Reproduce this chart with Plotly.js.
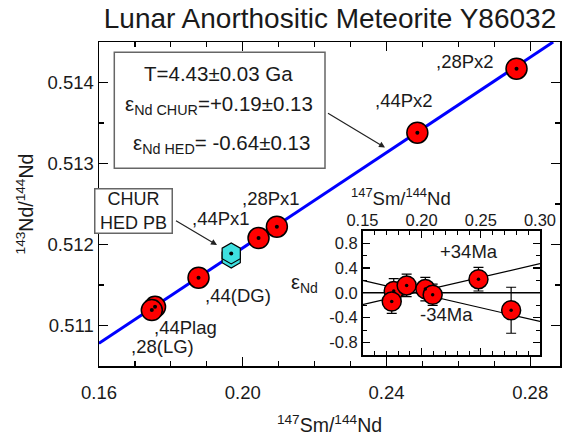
<!DOCTYPE html>
<html>
<head>
<meta charset="utf-8">
<script src="https://cdn.plot.ly/plotly-3.0.1.min.js"></script>
<style>html,body{margin:0;padding:0;background:#fff;}#chart{width:562px;height:436px;}</style>
</head>
<body>
<div id="chart"></div>
<script>
// ---- data ----
const chartTitle = 'Lunar Anorthositic Meteorite Y86032';
const sampleNames = [',28Px2', ',44Px2', ',28Px1', ',44Px1', ',44(DG)', ',44Plag', ',28(LG)'];
const smNd = [0.2762, 0.2486, 0.2095, 0.2044, 0.1877, 0.1756, 0.1747];
const ndNd = [0.51417, 0.51338, 0.51222, 0.51208, 0.51159, 0.51123, 0.51119];
const reservoirNames = ['HED PB', 'CHUR'];
const reservoirX = [0.1968, 0.1968];
const reservoirY = [0.51184, 0.51189];
const isochronX = [0.16, 0.2864];
const isochronY = [0.51078, 0.5145];

const epsX = [0.1764, 0.1747, 0.1873, 0.2031, 0.2093, 0.2480, 0.2756];
const epsY = [0.03, -0.14, 0.12, 0.06, -0.03, 0.22, -0.28];
const epsErr = [0.20, 0.19, 0.18, 0.19, 0.17, 0.19, 0.37];
const refLineX = [0.15, 0.30];
const plus34Y = [-0.19, 0.47];
const minus34Y = [0.20, -0.46];
const zeroLineY = [0, 0];

const mainXTicks = [0.16, 0.20, 0.24, 0.28];
const mainXLabels = ['0.16', '0.20', '0.24', '0.28'];
const mainYTicks = [0.511, 0.512, 0.513, 0.514];
const mainYLabels = ['0.511', '0.512', '0.513', '0.514'];
const insetXTicks = [0.15, 0.20, 0.25, 0.30];
const insetXLabels = ['0.15', '0.20', '0.25', '0.30'];
const insetYTicks = [-0.8, -0.4, 0.0, 0.4, 0.8];
const insetYLabels = ['-0.8', '-0.4', '0.0', '0.4', '0.8'];

const boxLines = ['T=4.43±0.03 Ga', 'ε<sub>Nd CHUR</sub>=+0.19±0.13', 'ε<sub>Nd HED</sub>= -0.64±0.13'];
const reservoirBoxText = 'CHUR<br>HED PB';
const ageLabels = ['+34Ma', '-34Ma'];

// ---- layout helpers ----
const FONT = 'Liberation Sans, Arial, sans-serif';
const TXT = '#1a1a1a';
const W = 562, H = 436, L = 99, R = 2, T = 42, B = 70;
const pw = W - L - R, ph = H - T - B;
const px = v => (v - L) / pw;          // pixel x -> paper
const py = v => (H - B - v) / ph;      // pixel y -> paper

const traces = [
  {x: isochronX, y: isochronY, mode: 'lines', line: {color: '#0000ff', width: 3}, xaxis: 'x', yaxis: 'y', hoverinfo: 'skip'},
  {x: smNd, y: ndNd, text: sampleNames, mode: 'markers', xaxis: 'x', yaxis: 'y',
   marker: {color: '#ff0000', size: 21, line: {color: '#000', width: 1.5}}, hoverinfo: 'skip'},
  {x: smNd, y: ndNd, mode: 'markers', xaxis: 'x', yaxis: 'y',
   marker: {color: '#000', size: 4}, hoverinfo: 'skip'},
  {x: reservoirX, y: reservoirY, text: reservoirNames, mode: 'markers', xaxis: 'x', yaxis: 'y',
   marker: {symbol: 'hexagon', color: '#3ee0e0', size: 21, line: {color: '#000', width: 1.2}}, hoverinfo: 'skip'},
  {x: reservoirX.slice(1), y: reservoirY.slice(1), mode: 'markers', xaxis: 'x', yaxis: 'y',
   marker: {color: '#000', size: 4}, hoverinfo: 'skip'},
  // inset
  {x: refLineX, y: zeroLineY, mode: 'lines', line: {color: '#000', width: 1.5}, xaxis: 'x2', yaxis: 'y2', hoverinfo: 'skip'},
  {x: refLineX, y: plus34Y, mode: 'lines', line: {color: '#000', width: 1.2}, xaxis: 'x2', yaxis: 'y2', hoverinfo: 'skip'},
  {x: refLineX, y: minus34Y, mode: 'lines', line: {color: '#000', width: 1.2}, xaxis: 'x2', yaxis: 'y2', hoverinfo: 'skip'},
  {x: epsX, y: epsY, mode: 'markers', xaxis: 'x2', yaxis: 'y2',
   error_y: {type: 'data', array: epsErr, visible: true, color: '#000', thickness: 1.2, width: 5},
   marker: {color: '#ff0000', size: 19, line: {color: '#000', width: 1.5}}, hoverinfo: 'skip'},
  {x: epsX, y: epsY, mode: 'markers', xaxis: 'x2', yaxis: 'y2',
   marker: {color: '#000', size: 3.5}, hoverinfo: 'skip'}
];

const labelPos = [[465, 61.7], [404, 100], [271, 198.3], [221, 218.3], [238, 295.7], [185.5, 327.7], [162, 346.7]];
const annotations = [];
sampleNames.forEach((n, i) => {
  annotations.push({xref: 'paper', yref: 'paper', x: px(labelPos[i][0]), y: py(labelPos[i][1]),
    text: n, showarrow: false, xanchor: 'center', yanchor: 'middle', font: {size: 18.5, color: TXT, family: FONT}});
});
const boxPos = [[218, 73.3], [219, 105], [221, 144]];
boxLines.forEach((t, i) => {
  annotations.push({xref: 'paper', yref: 'paper', x: px(boxPos[i][0]), y: py(boxPos[i][1]),
    text: t, showarrow: false, xanchor: 'center', yanchor: 'middle', font: {size: 20.5, color: TXT, family: FONT}});
});
// arrow from main box to isochron
annotations.push({xref: 'paper', yref: 'paper', x: px(385), y: py(147.5), ax: 325 - 385, ay: 111.5 - 147.5,
  axref: 'pixel', ayref: 'pixel', text: ' ', showarrow: true, arrowhead: 2, arrowsize: 1, arrowwidth: 1.2, arrowcolor: '#222'});
// arrow from reservoir box to hexagon
annotations.push({xref: 'paper', yref: 'paper', x: px(217), y: py(245), ax: 173 - 217, ay: 219 - 245,
  axref: 'pixel', ayref: 'pixel', text: ' ', showarrow: true, arrowhead: 2, arrowsize: 1, arrowwidth: 1.2, arrowcolor: '#222'});
// reservoir box
annotations.push({xref: 'paper', yref: 'paper', x: px(133), y: py(211.2), text: reservoirBoxText, showarrow: false,
  xanchor: 'center', yanchor: 'middle', width: 76, height: 43, borderpad: 0, bordercolor: '#666', borderwidth: 1.5,
  bgcolor: '#fff', font: {size: 18, color: TXT, family: FONT}});
// inset labels
annotations.push({xref: 'paper', yref: 'paper', x: px(500), y: py(251.7), text: ageLabels[0], showarrow: false,
  font: {size: 18.5, color: TXT, family: FONT}});
annotations.push({xref: 'paper', yref: 'paper', x: px(475), y: py(326.7), text: ageLabels[1], showarrow: false,
  font: {size: 18.5, color: TXT, family: FONT}});
annotations.push({xref: 'paper', yref: 'paper', x: px(453), y: py(197), text: '<sup>147</sup>Sm/<sup>144</sup>Nd', showarrow: false,
  font: {size: 18.5, color: TXT, family: FONT}});
annotations.push({xref: 'paper', yref: 'paper', x: px(289), y: py(298), xanchor: 'left', text: 'ε<sub>Nd</sub>', showarrow: false,
  font: {size: 20, color: TXT, family: FONT}});

const axisCommon = {showline: true, linecolor: '#000', linewidth: 1.5, mirror: 'allticks', ticks: 'inside',
  showgrid: false, zeroline: false, tickcolor: '#000', tickwidth: 1.2, tickmode: 'array', fixedrange: true};

const layout = {
  width: W, height: H,
  margin: {l: L, r: R, t: T, b: B},
  paper_bgcolor: '#fff', plot_bgcolor: 'rgba(0,0,0,0)',
  showlegend: false,
  font: {family: FONT, color: TXT},
  title: {text: chartTitle, font: {size: 28, color: TXT, family: FONT}, x: 330 / W, xanchor: 'center',
    y: 1 - 18 / H, yanchor: 'middle', xref: 'container', yref: 'container'},
  xaxis: Object.assign({}, axisCommon, {range: [0.16, 0.2883], domain: [0, 1], anchor: 'y',
    tickvals: mainXTicks, ticktext: mainXLabels, ticklen: 9, ticklabelstandoff: 9,
    minor: {dtick: 0.01, tick0: 0.16, ticks: 'inside', ticklen: 5, tickcolor: '#000', tickwidth: 1.2},
    tickfont: {size: 18.5, color: TXT},
    title: {text: '<sup>147</sup>Sm/<sup>144</sup>Nd', font: {size: 19.5, color: TXT}, standoff: 18}}),
  yaxis: Object.assign({}, axisCommon, {range: [0.5105, 0.5145], domain: [0, 1], anchor: 'x',
    tickvals: mainYTicks, ticktext: mainYLabels, ticklen: 9,
    minor: {dtick: 0.0005, tick0: 0.5105, ticks: 'inside', ticklen: 5, tickcolor: '#000', tickwidth: 1.2},
    tickfont: {size: 18.5, color: TXT},
    title: {text: '<sup>143</sup>Nd/<sup>144</sup>Nd', font: {size: 19.5, color: TXT}, standoff: 8}}),
  xaxis2: Object.assign({}, axisCommon, {range: [0.15, 0.30], domain: [px(362.5), px(540)], anchor: 'y2', side: 'top',
    tickvals: insetXTicks, ticktext: insetXLabels, ticklen: 7, ticklabelstandoff: -3,
    minor: {dtick: 0.01, tick0: 0.15, ticks: 'inside', ticklen: 4, tickcolor: '#000', tickwidth: 1},
    tickfont: {size: 16.5, color: TXT}}),
  yaxis2: Object.assign({}, axisCommon, {range: [-1, 1], domain: [py(355), py(230.7)], anchor: 'x2',
    tickvals: insetYTicks, ticktext: insetYLabels, ticklen: 7,
    minor: {dtick: 0.2, tick0: -1, ticks: 'inside', ticklen: 4, tickcolor: '#000', tickwidth: 1},
    tickfont: {size: 16.5, color: TXT}}),
  shapes: [
    {type: 'rect', xref: 'paper', yref: 'paper', x0: px(114.3), x1: px(325), y0: py(168.3), y1: py(52.3),
      line: {color: '#666', width: 1.5}, fillcolor: 'rgba(0,0,0,0)', layer: 'above'},
    {type: 'rect', xref: 'paper', yref: 'paper', x0: px(362.5), x1: px(540), y0: py(355), y1: py(230.7),
      line: {width: 0}, fillcolor: '#fff', layer: 'below'}
  ],
  annotations: annotations
};

Plotly.newPlot('chart', traces, layout, {displayModeBar: false, staticPlot: true});
</script>
</body>
</html>
